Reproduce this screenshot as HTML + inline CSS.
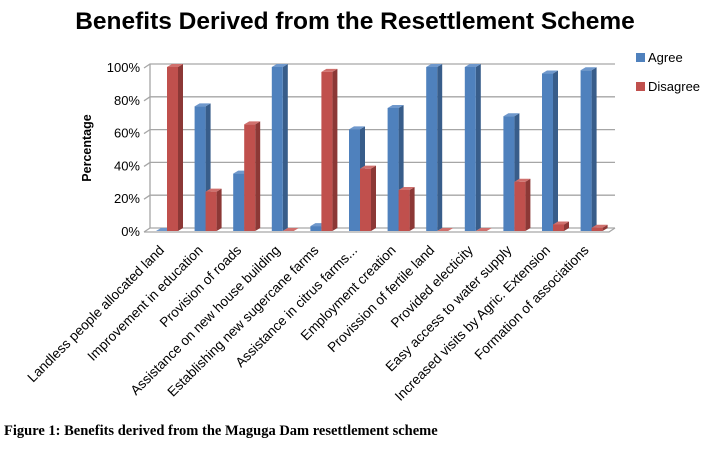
<!DOCTYPE html>
<html><head><meta charset="utf-8"><style>
body{margin:0;background:#fff;width:711px;height:445px;overflow:hidden;font-family:"Liberation Sans",sans-serif}
</style></head><body>
<svg width="711" height="445" xmlns="http://www.w3.org/2000/svg">
<text x="355" y="29" text-anchor="middle" font-size="24.5" font-weight="bold" fill="#000">Benefits Derived from the Resettlement Scheme</text>
<g id="grid"></g><g id="bars"></g><g id="labels"></g>
<text transform="translate(91,148) rotate(-90)" text-anchor="middle" font-size="12.5" font-weight="bold">Percentage</text>
<rect x="636" y="53" width="9" height="9" fill="#4f81bd"/>
<text x="648" y="62" font-size="13">Agree</text>
<rect x="636" y="82" width="9" height="9" fill="#c0504d"/>
<text x="648" y="91" font-size="13">Disagree</text>
<text x="4" y="435" font-family="Liberation Serif,serif" font-size="14.5" font-weight="bold">Figure 1: Benefits derived from the Maguga Dam resettlement scheme</text>
</svg>
<script>
const categories=["Landless people allocated land","Improvement in education","Provision of roads","Assistance on new house building","Establishing new sugercane farms","Assistance in citrus farms...","Employment creation","Provission of fertile land","Provided electicity","Easy access to water supply","Increased visits by Agric. Extension","Formation of associations"];
const agree=[0,76,35,100,3,62,75,100,100,70,96,98];
const disagree=[100,24,65,0,97,38,25,0,0,30,4,2];
const ticks=[0,20,40,60,80,100];
const NS="http://www.w3.org/2000/svg";
const y0=231,ppv=1.64,x0=150,step=38.6,dx=5,dy=3,bw=11;
const yS=v=>y0-v*ppv;
const xS=i=>x0+i*step;
function mk(t,a,p){const e=document.createElementNS(NS,t);for(const k in a)e.setAttribute(k,a[k]);p.appendChild(e);return e;}
const G=document.getElementById('grid'),B=document.getElementById('bars'),L=document.getElementById('labels');
ticks.forEach(t=>{
 const l=mk('polyline',{points:`${x0-6},${yS(t)+1} ${x0},${yS(t)-3} 615,${yS(t)-3}`,fill:'none',stroke:'#a6a6a6','stroke-width':1.3},G);
 
 
 const tx=mk('text',{x:x0-10,y:yS(t)+5,'text-anchor':'end','font-size':13},G);tx.textContent=t+'%';
 
 
});
mk('line',{x1:x0,y1:yS(100)-3,x2:x0,y2:y0-3,stroke:'#a6a6a6','stroke-width':1.3},G);
mk('polyline',{points:`${x0-6},${y0+1} 609,${y0+1} 615,${y0-3}`,fill:'none',stroke:'#a6a6a6','stroke-width':1.3},G);
function bar(x,v,c1,c2,c3,name){
 const g=mk('g',{},B);
 
 
 const top=yS(v);
 mk('polygon',{points:`${x+bw},${top} ${x+bw+dx},${top-dy} ${x+bw+dx},${y0-dy} ${x+bw},${y0}`,fill:c2},g);
 mk('polygon',{points:`${x},${top} ${x+dx},${top-dy} ${x+bw+dx},${top-dy} ${x+bw},${top}`,fill:c3},g);
 mk('rect',{x:x,y:top,width:bw,height:y0-top,fill:c1},g);
}
categories.forEach((c,i)=>{
 const x=xS(i)+6;
 bar(x,agree[i],'#4f81bd','#385d8a','#6f98cc','bar-agree');
 bar(x+bw,disagree[i],'#c0504d','#8c3836','#d0706d','bar-disagree');
 const tx=mk('text',{transform:`translate(${x+bw-2},${y0+20}) rotate(-45)`,'text-anchor':'end','font-size':13.6},L);
 tx.textContent=c;
 
 
});
</script>
</body></html>
